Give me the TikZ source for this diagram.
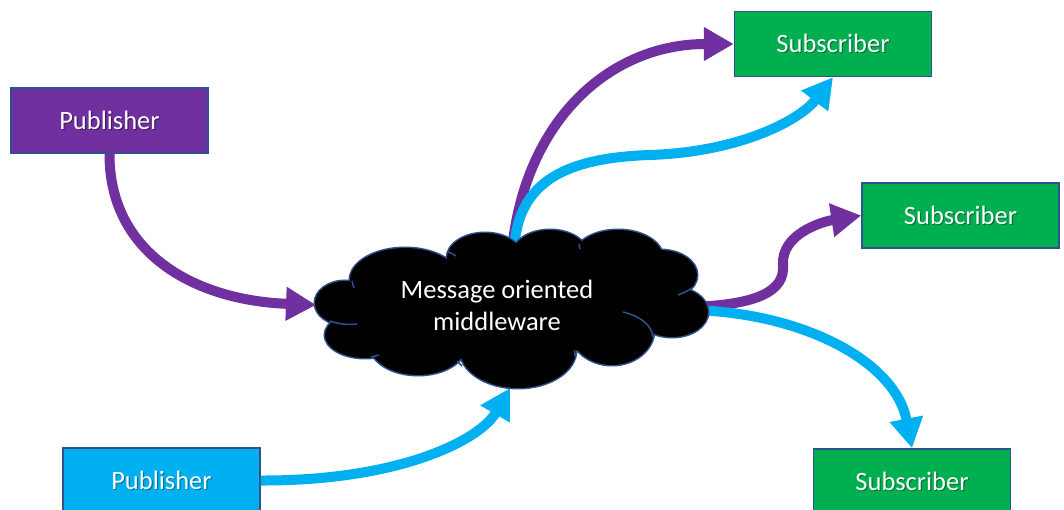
\documentclass[tikz,border=0pt]{standalone}
\usepackage{fontspec}
\setmainfont{Carlito}
\usetikzlibrary{arrows.meta}
\definecolor{pubpurple}{HTML}{7030A0}
\definecolor{pubcyan}{HTML}{00B0F0}
\definecolor{subgreen}{HTML}{00B050}
\definecolor{edgeblue}{HTML}{2F528F}
\newcommand\shadowtext[2]{\makebox[0pt][l]{\raisebox{-1.2pt}{\kern1.2pt\textcolor{#1}{#2}}}#2}
\tikzset{
  box/.style={draw=edgeblue, line width=1.5pt, minimum width=197pt, minimum height=65pt,
    text=white, font=\fontsize{26.5}{32}\selectfont, inner sep=0pt},
  pubA/.style={box, fill=pubpurple},
  pubB/.style={box, fill=pubcyan},
  subbox/.style={box, fill=subgreen},
  flow/.style={line width=10pt, -{Triangle[length=30pt,width=32pt]}},
  flowP/.style={flow, draw=pubpurple},
  flowC/.style={flow, draw=pubcyan},
  puffline/.style={draw=edgeblue, line width=3pt},
  innerarc/.style={draw=edgeblue, line width=1.5pt},
}
\begin{document}
\begin{tikzpicture}[x=1pt,y=-1pt]
\useasboundingbox (0,0) rectangle (1064,510);
\node[pubA] (pub1) at (109.5,120.5) {\shadowtext{pubpurple!55!black}{Publisher}};
\node[pubB] (pub2) at (161.5,480.5) {\shadowtext{pubcyan!65!black}{Publisher}};
\node[subbox] (sub1) at (833,44) {\shadowtext{subgreen!65!black}{Subscriber}};
\node[subbox] (sub2) at (960.5,215.5) {\shadowtext{subgreen!65!black}{Subscriber}};
\node[subbox] (sub3) at (912,481.5) {\shadowtext{subgreen!65!black}{Subscriber}};
\coordinate (inL) at (316,305);
\coordinate (inB) at (510,388);
\coordinate (tA) at (512,250);
\coordinate (tB) at (514,255);
\coordinate (rA) at (690,307);
\coordinate (rB) at (690,310);
\draw[flowP] (pub1.south) .. controls (109,250) and (190,300) .. (inL);
\draw[flowC] (pub2.east) .. controls (400,481) and (480,440) .. (inB);
\draw[flowP] (tA) .. controls (525,120) and (610,44) .. (sub1.west);
\draw[flowC] (tB) .. controls (515,185) and (560,158) .. (650,155) .. controls (740,152) and (800,120) .. (sub1.south);
\draw[flowP] (rA) .. controls (760,305) and (785,290) .. (783,265) .. controls (781,235) and (820,222) .. (sub2.west);
\draw[flowC] (rB) .. controls (800,312) and (895,360) .. (sub3.north);
% cloud: stroke all puffs, then fill them so only the outer outline remains
\def\puffs{
  (345,303) ellipse [x radius=30, y radius=22]
  (365,335) ellipse [x radius=40, y radius=23]
  (418,345) ellipse [x radius=48, y radius=30]
  (518,350) ellipse [x radius=58, y radius=38]
  (612,330) ellipse [x radius=42, y radius=35]
  (672,312) ellipse [x radius=36, y radius=25]
  (660,275) ellipse [x radius=37, y radius=25]
  (618,258) ellipse [x radius=45, y radius=28]
  (550,255) ellipse [x radius=38, y radius=25]
  (485,258) ellipse [x radius=38, y radius=25]
  (405,280) ellipse [x radius=55, y radius=32]}
\path[puffline] \puffs;
\fill[black] \puffs;
\fill[black] (510,305) ellipse [x radius=160, y radius=50];
\draw[innerarc] (330,321) .. controls (338,324) and (348,325) .. (357,324);
\draw[innerarc] (352,281) .. controls (352.5,283) and (353,285) .. (354,288);
\draw[innerarc] (448,252) .. controls (451,253) and (453,254) .. (456,256);
\draw[innerarc] (579,244) .. controls (579.3,246) and (579.6,247) .. (580,249);
\draw[innerarc] (692,288) .. controls (688,291) and (683,293) .. (678,295);
\draw[innerarc] (623,312) .. controls (640,316) and (652,325) .. (653,337);
\draw[innerarc] (575,356) .. controls (575,354) and (575,352) .. (574.5,350);
\draw[innerarc] (462,366) .. controls (460,364) and (459,363) .. (457,361);
\draw[innerarc] (371,357) .. controls (373,356.5) and (376,356) .. (379,355);
\node[text=white, align=center, font=\fontsize{26.5}{32}\selectfont, inner sep=0pt] (mom) at (497,305) {Message oriented\\middleware};
\end{tikzpicture}
\end{document}
